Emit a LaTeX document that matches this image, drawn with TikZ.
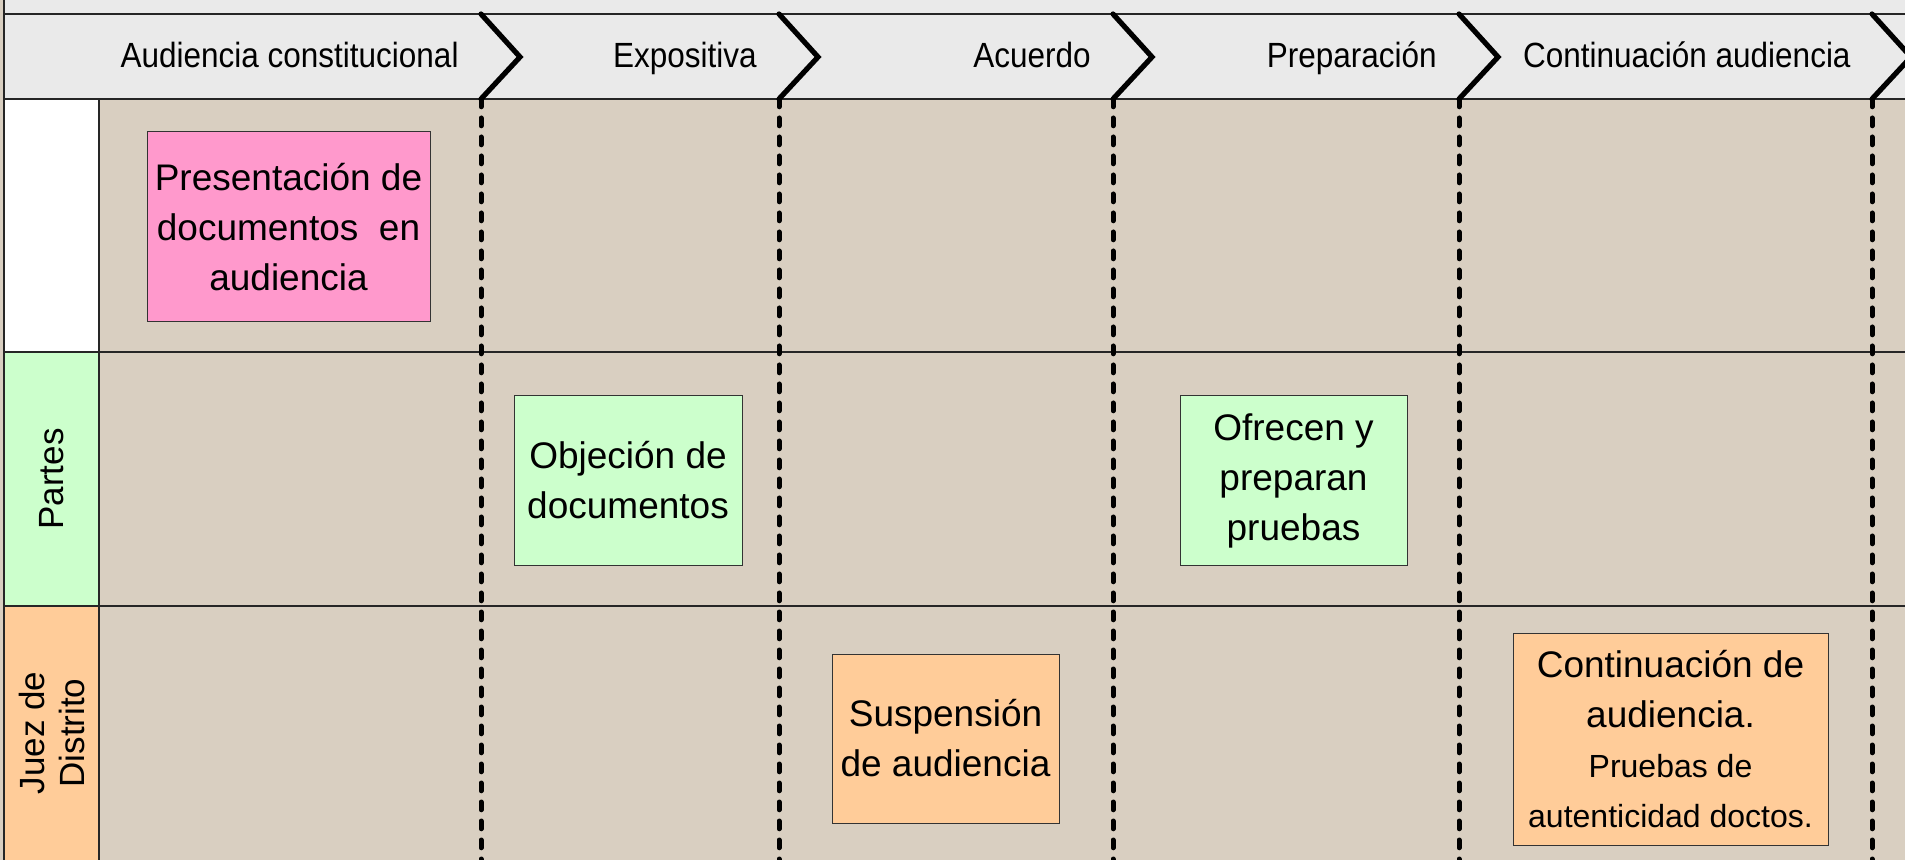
\documentclass[tikz,border=0pt]{standalone}
\usepackage{fontspec}
\setmainfont{Liberation Sans}
\newfontfamily\phasefont[FakeStretch=0.9]{Liberation Sans}
\definecolor{bgtex}{HTML}{D9CFC1}
\definecolor{hdrgray}{HTML}{EAEAEA}
\definecolor{pinkbox}{HTML}{FF99CC}
\definecolor{greenbox}{HTML}{CCFFCC}
\definecolor{peachbox}{HTML}{FFCC99}
\tikzset{
  frameline/.style={draw=black!85, line width=0.6pt},
  chevronline/.style={line width=2.6pt, line cap=round, line join=miter},
  phaseline/.style={line width=2.5pt, line cap=round, dash pattern=on 3.9pt off 5.6pt},
  phaselabel/.style={font=\phasefont\fontsize{17.5}{20}\selectfont, anchor=base east, inner sep=0pt},
  lanelabel/.style={font=\fontsize{17.5}{20}\selectfont, rotate=90, align=center, inner sep=0pt},
  actbox/.style={draw=black!80, line width=0.5pt, align=center, font=\fontsize{18.5}{25}\selectfont, inner sep=0pt},
}
\begin{document}
\begin{tikzpicture}[x=0.5pt,y=-0.5pt]
\useasboundingbox (0,0) rectangle (1905,860);
% background texture colour
\fill[bgtex] (0,0) rectangle (1905,860);
% header band
\fill[hdrgray] (4,0) rectangle (1905,99);
% lane header cells
\fill[white] (4,99) rectangle (99,352);
\fill[greenbox] (4,352) rectangle (99,606);
\fill[peachbox] (4,606) rectangle (99,860);
% frame lines
\draw[frameline] (4,0) -- (4,860);
\draw[frameline] (4,14) -- (1905,14);
\draw[frameline] (4,99) -- (1905,99);
\draw[frameline] (4,352) -- (1905,352);
\draw[frameline] (4,606) -- (1905,606);
\draw[frameline] (99,99) -- (99,860);
% phase separators
\foreach \px in {481,779,1113,1459,1872}{
  \draw[chevronline] (\px,14) -- (\px+39,57) -- (\px,99);
  \draw[phaseline] (\px,99) -- (\px,860);
}
% phase labels
\node[phaselabel] (ph1) at (459,67.5) {Audiencia constitucional};
\node[phaselabel] (ph2) at (757,67.5) {Expositiva};
\node[phaselabel] (ph3) at (1091,67.5) {Acuerdo};
\node[phaselabel] (ph4) at (1437,67.5) {Preparación};
\node[phaselabel] (ph5) at (1851,67.5) {Continuación audiencia};
% lane labels
\node[lanelabel] (lane2) at (52,479) {Partes};
\node[lanelabel] (lane3) at (52,733) {Juez de\\Distrito};
% activity boxes
\node[actbox, fill=pinkbox, minimum width=141.5pt, minimum height=95pt] (a1) at (288.5,227)
  {Presentación de\\documentos\ \ en\\audiencia};
\node[actbox, fill=greenbox, minimum width=114pt, minimum height=84.5pt] (a2) at (628,480.5)
  {Objeción de\\documentos};
\node[actbox, fill=greenbox, minimum width=113.5pt, minimum height=84.5pt] (a4) at (1293.5,480.5)
  {Ofrecen y\\preparan\\pruebas};
\node[actbox, fill=peachbox, minimum width=113.5pt, minimum height=84.5pt] (a3) at (945.5,738.5)
  {Suspensión\\de audiencia};
\node[actbox, fill=peachbox, minimum width=157.5pt, minimum height=106pt] (a5) at (1670.5,739)
  {Continuación de\\audiencia.\\\fontsize{16}{23.5}\selectfont Pruebas de\\\fontsize{16}{23.5}\selectfont autenticidad doctos.};
\end{tikzpicture}
\end{document}
